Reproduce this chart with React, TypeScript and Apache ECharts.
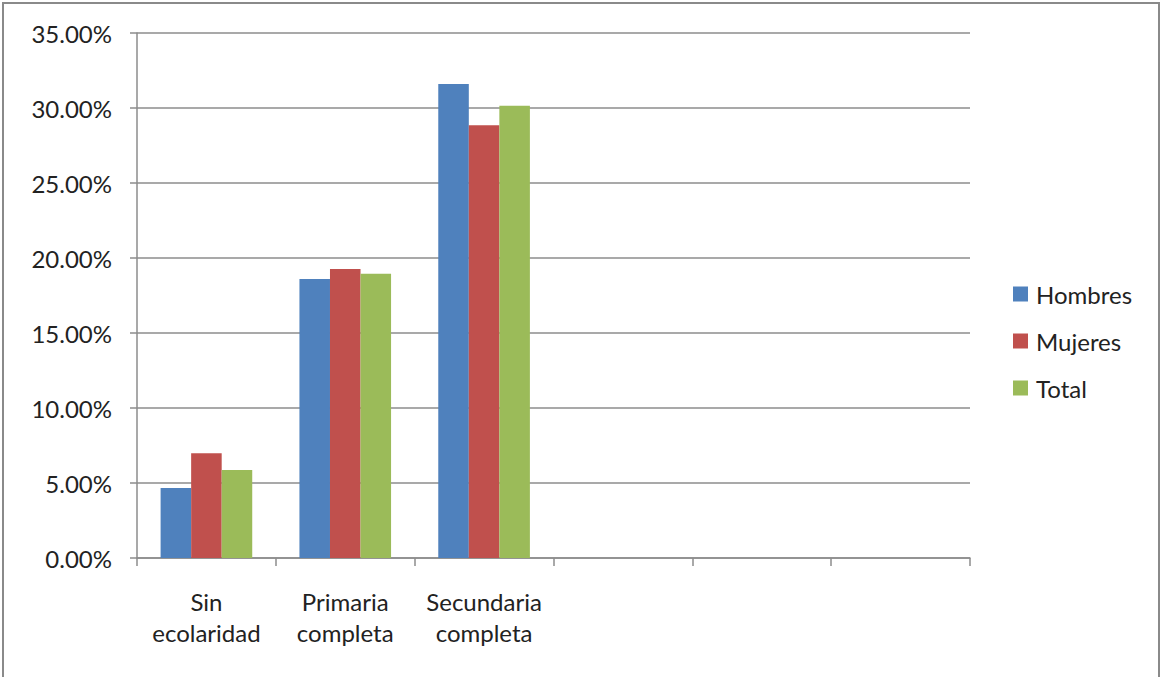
import React, { useEffect, useRef } from "react";
import * as echarts from "echarts";

const categories = ["Sin\necolaridad", "Primaria\ncompleta", "Secundaria\ncompleta", "", "", ""];
const hombres = [4.67, 18.6, 31.6, null, null, null];
const mujeres = [6.98, 19.27, 28.85, null, null, null];
const total = [5.87, 18.95, 30.15, null, null, null];
const seriesNames = ["Hombres", "Mujeres", "Total"];
const colors = ["#4F81BD", "#C0504D", "#9BBB59"];

const FONT = "Lato";

export default function App() {
  const ref = useRef<HTMLDivElement>(null);
  useEffect(() => {
    const chart = echarts.init(ref.current!, null, { renderer: "svg" });
    const data = [hombres, mujeres, total];
    chart.setOption({
      animation: false,
      backgroundColor: "#ffffff",
      textStyle: { fontFamily: FONT },
      grid: { left: 137, right: 190, top: 33, bottom: 119, containLabel: false },
      legend: {
        orient: "vertical",
        left: 1008,
        top: 277,
        itemWidth: 15,
        itemHeight: 15,
        itemGap: 23,
        textStyle: { fontFamily: FONT, fontSize: 24, color: "#222", padding: [0, 0, 0, 3] },
        icon: "rect",
        data: seriesNames,
      },
      xAxis: {
        type: "category",
        data: categories,
        axisLine: { lineStyle: { color: "#8c8c8c", width: 1.5 } },
        axisTick: { show: true, length: 8, alignWithLabel: false, lineStyle: { color: "#8c8c8c", width: 1.5 } },
        axisLabel: {
          color: "#222",
          fontFamily: FONT,
          fontSize: 24,
          lineHeight: 31,
          margin: 28,
          interval: 0,
        },
      },
      yAxis: {
        type: "value",
        min: 0,
        max: 35,
        interval: 5,
        axisLine: { show: true, lineStyle: { color: "#8c8c8c", width: 1.5 } },
        axisTick: { show: true, length: 7, lineStyle: { color: "#8c8c8c", width: 1.5 } },
        splitLine: { lineStyle: { color: "#8c8c8c", width: 1.5 } },
        axisLabel: {
          color: "#222",
          fontFamily: FONT,
          fontSize: 24,
          margin: 25,
          formatter: (v: number) => v.toFixed(2) + "%",
        },
      },
      series: seriesNames.map((name, i) => ({
        name,
        type: "bar",
        data: data[i],
        barGap: "0%",
        barCategoryGap: "34%",
        itemStyle: { color: colors[i] },
      })),
      graphic: [
        {
          type: "polyline",
          shape: { points: [[3, 677], [3, 3], [1159, 3], [1159, 677]] },
          style: { stroke: "#8a8a8a", lineWidth: 2, fill: null },
          silent: true,
        },
      ],
    });
    return () => chart.dispose();
  }, []);
  return (
    <div
      ref={ref}
      style={{ position: "absolute", left: 0, top: 0, width: 1160, height: 677 }}
    />
  );
}
